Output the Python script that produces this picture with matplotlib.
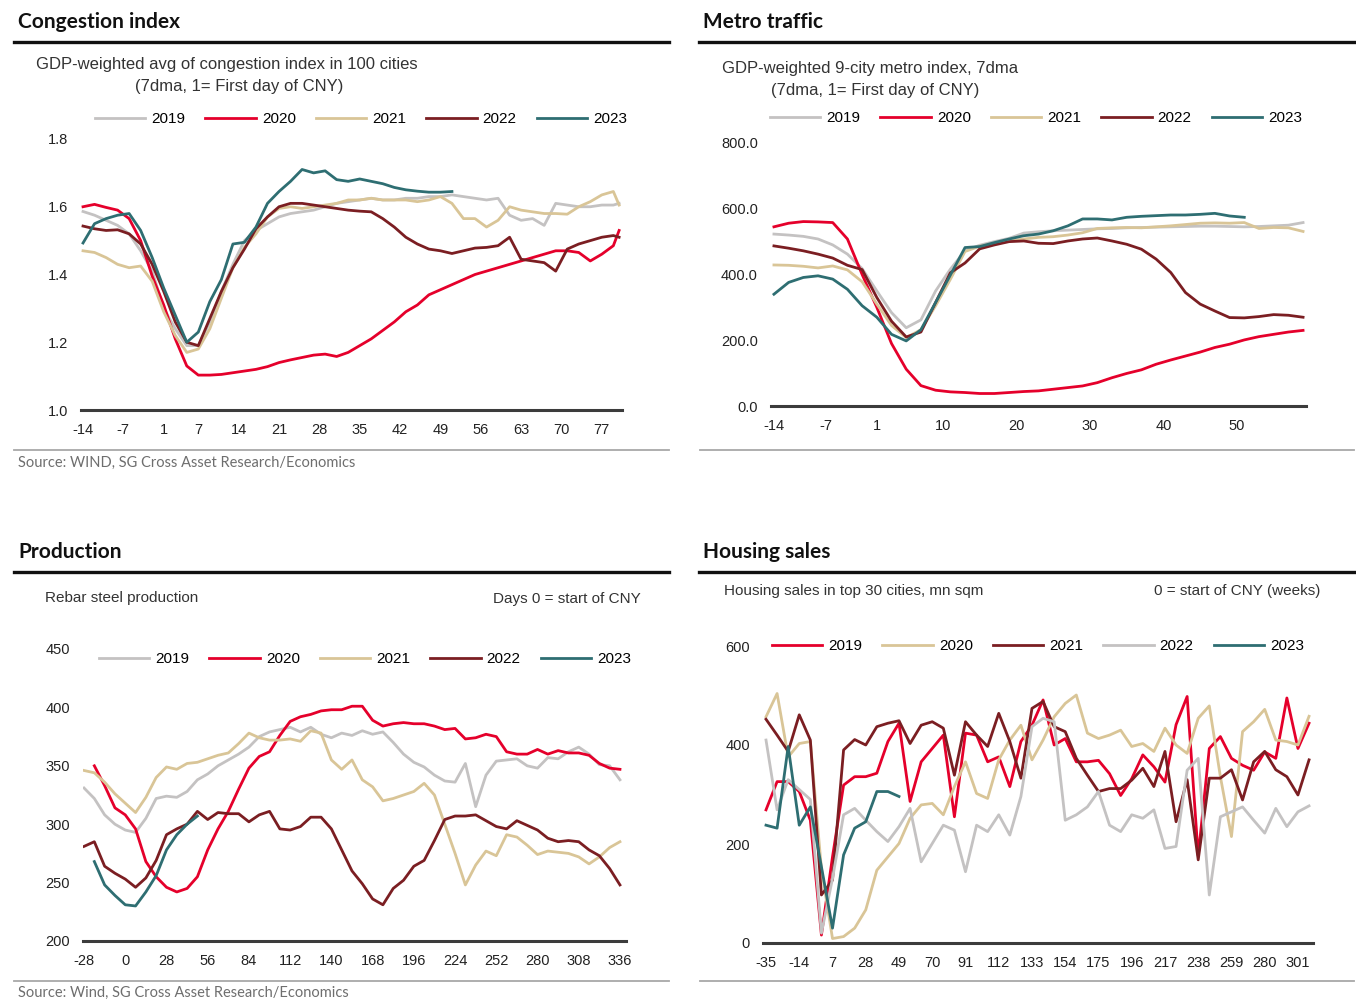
import numpy as np
import matplotlib
matplotlib.use("Agg")
import matplotlib.pyplot as plt
from matplotlib.lines import Line2D

nan = np.nan

# ---- congestion index (days around CNY, day 0 does not exist) ----
cong_days = [-14, -12, -10, -8, -6, -4, -2, 1, 3, 5, 7, 9, 11, 13, 15, 17, 19, 21, 23, 25,
             27, 29, 31, 33, 35, 37, 39, 41, 43, 45, 47, 49, 51, 53, 55, 57, 59, 61, 63, 65,
             67, 69, 71, 73, 75, 77, 79, 80]
cong_2019 = [1.586, 1.575, 1.56, 1.545, 1.52, 1.47, 1.41, 1.30, 1.24, 1.19, 1.19, 1.26, 1.35, 1.43,
             1.50, 1.53, 1.55, 1.57, 1.58, 1.585, 1.59, 1.60, 1.61, 1.615, 1.62, 1.625, 1.62, 1.62,
             1.625, 1.625, 1.63, 1.63, 1.635, 1.63, 1.625, 1.62, 1.625, 1.575, 1.56, 1.565, 1.545,
             1.61, 1.605, 1.60, 1.60, 1.605, 1.605, 1.61]
cong_2020 = [1.60, 1.607, 1.598, 1.59, 1.565, 1.50, 1.395, 1.31, 1.21, 1.13, 1.103, 1.103, 1.105,
             1.11, 1.115, 1.12, 1.128, 1.14, 1.148, 1.155, 1.162, 1.165, 1.158, 1.17, 1.19, 1.21,
             1.235, 1.26, 1.29, 1.31, 1.34, 1.355, 1.37, 1.385, 1.40, 1.41, 1.42, 1.43, 1.44, 1.45,
             1.46, 1.47, 1.47, 1.465, 1.44, 1.46, 1.485, 1.53]
cong_2021 = [1.47, 1.465, 1.45, 1.43, 1.42, 1.425, 1.38, 1.29, 1.22, 1.17, 1.18, 1.24, 1.33, 1.42,
             1.48, 1.52, 1.57, 1.595, 1.60, 1.595, 1.60, 1.605, 1.61, 1.62, 1.62, 1.625, 1.62, 1.62,
             1.62, 1.615, 1.62, 1.63, 1.61, 1.565, 1.565, 1.54, 1.56, 1.60, 1.59, 1.585, 1.58, 1.58,
             1.578, 1.60, 1.615, 1.635, 1.645, 1.605]
cong_2022 = [1.543, 1.535, 1.53, 1.532, 1.52, 1.49, 1.43, 1.35, 1.26, 1.20, 1.19, 1.27, 1.35, 1.42,
             1.475, 1.535, 1.57, 1.60, 1.61, 1.61, 1.605, 1.60, 1.595, 1.59, 1.587, 1.585, 1.565,
             1.54, 1.51, 1.49, 1.475, 1.47, 1.462, 1.47, 1.478, 1.48, 1.485, 1.51, 1.445, 1.44,
             1.435, 1.41, 1.475, 1.49, 1.50, 1.51, 1.515, 1.51]
cong_2023 = [1.493, 1.55, 1.565, 1.575, 1.58, 1.53, 1.45, 1.36, 1.28, 1.20, 1.23, 1.32, 1.385, 1.49,
             1.495, 1.54, 1.61, 1.645, 1.675, 1.71, 1.70, 1.706, 1.68, 1.675, 1.682, 1.675, 1.668,
             1.657, 1.65, 1.646, 1.643, 1.643, 1.645] + [nan] * 15
cong_ticks = [-14, -7, 1, 7, 14, 21, 28, 35, 42, 49, 56, 63, 70, 77]

# ---- metro traffic ----
metro_days = [-14, -12, -10, -8, -6, -4, -2, 1, 3, 5, 7, 9, 11, 13, 15, 17, 19, 21, 23, 25, 27,
              29, 31, 33, 35, 37, 39, 41, 43, 45, 47, 49, 51, 53, 55, 57, 59]
metro_2019 = [523, 520, 516, 508, 490, 462, 418, 350, 284, 238, 262, 350, 416, 472, 489, 500, 510,
              526, 530, 533, 535, 537, 539, 540, 542, 543, 544, 545, 546, 547, 547, 546, 545, 546,
              548, 550, 558]
metro_2020 = [545, 556, 561, 560, 558, 508, 400, 300, 190, 112, 62, 48, 43, 41, 38, 38, 41, 44, 46,
              51, 56, 61, 71, 86, 99, 110, 127, 140, 152, 164, 178, 188, 201, 211, 218, 225, 230]
metro_2021 = [429, 428, 425, 420, 426, 414, 378, 310, 245, 208, 232, 305, 385, 470, 486, 494, 502,
              508, 513, 515, 520, 527, 540, 542, 543, 542, 545, 548, 552, 556, 557, 556, 558, 540,
              543, 542, 531]
metro_2022 = [487, 480, 472, 462, 450, 428, 415, 330, 258, 210, 225, 315, 405, 435, 478, 490, 500,
              502, 495, 494, 502, 508, 511, 502, 492, 477, 447, 406, 345, 310, 289, 269, 268, 272,
              278, 276, 270]
metro_2023 = [340, 376, 391, 396, 386, 355, 305, 270, 218, 198, 232, 315, 398, 482, 485, 497, 508,
              518, 523, 533, 548, 569, 569, 566, 574, 577, 579, 581, 581, 583, 586, 578, 574,
              nan, nan, nan, nan]
metro_ticks = [-14, -7, 1, 10, 20, 30, 40, 50]

# ---- rebar steel production (weekly) ----
prod_days = list(range(-28, 337, 7))
prod_2019 = [331, 322, 308, 300, 295, 293, 305, 322, 324, 323, 328, 338, 343, 350, 355, 360, 366,
             375, 379, 381, 383, 379, 383, 377, 374, 378, 376, 380, 377, 379, 370, 360, 353, 349,
             342, 337, 336, 352, 315, 342, 354, 355, 356, 350, 348, 357, 356, 362, 366, 360, 351,
             350, 338]
prod_2020 = [nan, 350, 333, 314, 308, 296, 268, 255, 246, 242, 245, 255, 278, 296, 311, 330, 348,
             358, 362, 376, 388, 392, 394, 397, 398, 398, 401, 401, 389, 384, 386, 387, 386, 386,
             384, 381, 382, 373, 374, 377, 375, 362, 360, 360, 364, 360, 363, 361, 361, 359, 352,
             348, 347]
prod_2021 = [346, 344, 336, 326, 318, 310, 323, 340, 349, 347, 352, 353, 356, 359, 361, 369, 378,
             374, 372, 372, 373, 371, 380, 378, 355, 347, 355, 338, 332, 320, 322, 325, 328, 335,
             325, 300, 275, 248, 265, 277, 273, 291, 289, 282, 274, 277, 276, 275, 272, 266, 272,
             280, 285]
prod_2022 = [281, 285, 264, 258, 253, 246, 254, 269, 291, 296, 300, 311, 304, 310, 309, 309, 302,
             308, 311, 296, 295, 298, 306, 306, 296, 278, 260, 249, 236, 231, 245, 252, 264, 269,
             286, 304, 307, 307, 308, 303, 298, 296, 303, 299, 295, 288, 285, 286, 285, 278, 273,
             262, 248]
prod_2023 = [nan, 268, 248, 239, 231, 230, 242, 256, 278, 291, 300, 307] + [nan] * 41
prod_ticks = list(range(-28, 337, 28))

# ---- housing sales (weekly) ----
house_days = list(range(-35, 309, 7))
house_2019 = [269, 326, 326, 306, 248, 16, 174, 319, 336, 336, 343, 407, 444, 286, 366, 393, 420,
              255, 424, 420, 366, 376, 316, 407, 440, 491, 400, 413, 366, 366, 369, 342, 298, 332,
              380, 356, 325, 441, 498, 176, 393, 417, 373, 359, 349, 386, 373, 495, 393, 444]
house_2020 = [457, 504, 376, 403, 407, 150, 9, 13, 30, 67, 147, 174, 201, 252, 279, 282, 259, 316,
              366, 302, 292, 370, 410, 440, 370, 410, 457, 484, 501, 424, 413, 420, 430, 397, 403,
              387, 434, 400, 383, 454, 479, 336, 215, 427, 447, 472, 410, 407, 400, 458]
house_2021 = [452, 420, 387, 461, 410, 97, 127, 390, 411, 400, 437, 444, 449, 403, 440, 447, 434,
              339, 447, 420, 397, 464, 407, 333, 474, 488, 437, 427, 373, 339, 306, 312, 312, 329,
              353, 316, 387, 245, 330, 168, 333, 333, 350, 289, 366, 387, 350, 336, 299, 370]
house_2022 = [410, 269, 330, 310, 290, 20, 130, 259, 272, 248, 225, 205, 235, 272, 164, 201, 238,
              228, 144, 238, 225, 259, 218, 296, 437, 454, 447, 248, 259, 275, 306, 238, 225, 259,
              252, 269, 191, 195, 349, 373, 97, 255, 265, 275, 248, 222, 272, 235, 265, 277]
house_2023 = [238, 232, 397, 238, 275, 154, 30, 178, 232, 245, 306, 306, 296] + [nan] * 37
house_ticks = list(range(-35, 302, 21))

years = ["2019", "2020", "2021", "2022", "2023"]
GRAY, RED, TAN, DRED, TEAL = "#C4C2C2", "#E5002B", "#D9C597", "#7B1E22", "#2E6E72"

W, H = 1356, 1007
plt.rcParams["font.family"] = ["Liberation Sans", "DejaVu Sans"]
plt.rcParams["axes.unicode_minus"] = False
fig = plt.figure(figsize=(W / 100, H / 100), dpi=100)
fig.patch.set_facecolor("white")


def fx(x):
    return x / W


def fy(y):
    return 1 - y / H


def add_ax(l, t, r, b):
    ax = fig.add_axes([l / W, 1 - b / H, (r - l) / W, (b - t) / H])
    for s in ["top", "left", "right"]:
        ax.spines[s].set_visible(False)
    ax.spines["bottom"].set_color("#3c3c3c")
    ax.spines["bottom"].set_linewidth(2.2)
    ax.tick_params(length=0, labelsize=10.5, colors="#222222", pad=9.5)
    ax.patch.set_alpha(0)
    return ax


def cny_pos(days):
    # categorical axis: day 0 is skipped
    return np.array([d + 14 if d < 0 else d + 13 for d in days])


def rule(x0, x1, y, color, lw):
    fig.add_artist(Line2D([fx(x0), fx(x1)], [fy(y), fy(y)], color=color, lw=lw))


def header(x, title, ytitle, yrule, x1):
    fig.text(fx(x), fy(ytitle), title, fontfamily=["Lato", "DejaVu Sans"],
             fontweight="bold", fontsize=15, va="center", color="#111111")
    rule(x - 4, x1, yrule, "#111111", 2.4)


def legend(ax, lines, cx, cy):
    ax.legend(lines, years, loc="center", bbox_to_anchor=(fx(cx), fy(cy)),
              bbox_transform=fig.transFigure, ncol=5, frameon=False, fontsize=11,
              handlelength=3.3, handletextpad=0.4, columnspacing=1.3, borderaxespad=0)


LW = 2.0

# ---------- panel 1: congestion ----------
header(18, "Congestion index", 22, 42, 669)
fig.text(fx(36), fy(64), "GDP-weighted avg of congestion index in 100 cities",
         fontsize=12, color="#333333", va="center")
fig.text(fx(135), fy(86), "(7dma, 1= First day of CNY)", fontsize=12, color="#333333", va="center")
ax1 = add_ax(81, 139, 622, 410)
xc = cny_pos(cong_days)
l1 = []
for ys, c in zip([cong_2019, cong_2020, cong_2021, cong_2022, cong_2023], [GRAY, RED, TAN, DRED, TEAL]):
    l1 += ax1.plot(xc, ys, color=c, lw=LW)
ax1.set_ylim(1.0, 1.8)
ax1.set_yticks([1.0, 1.2, 1.4, 1.6, 1.8])
ax1.set_yticklabels(["%.1f" % v for v in [1.0, 1.2, 1.4, 1.6, 1.8]])
ax1.set_xlim(-0.35, 93.5)
ax1.set_xticks(cny_pos(cong_ticks))
ax1.set_xticklabels([str(t) for t in cong_ticks])
legend(ax1, l1, 361, 119)
rule(14, 669, 450, "#a8a8a8", 1.3)
fig.text(fx(18), fy(463), "Source: WIND, SG Cross Asset Research/Economics",
         fontfamily=["Lato", "DejaVu Sans"], fontsize=10.5, color="#6e6e6e", va="center")

# ---------- panel 2: metro ----------
header(703, "Metro traffic", 22, 42, 1354)
fig.text(fx(722), fy(69), "GDP-weighted 9-city metro index, 7dma", fontsize=12, color="#333333", va="center")
fig.text(fx(771), fy(91), "(7dma, 1= First day of CNY)", fontsize=12, color="#333333", va="center")
ax2 = add_ax(771, 143, 1306, 406)
xm = cny_pos(metro_days)
l2 = []
for ys, c in zip([metro_2019, metro_2020, metro_2021, metro_2022, metro_2023], [GRAY, RED, TAN, DRED, TEAL]):
    l2 += ax2.plot(xm, ys, color=c, lw=LW)
ax2.set_ylim(0, 800)
ax2.set_yticks([0, 200, 400, 600, 800])
ax2.set_yticklabels(["%.1f" % v for v in [0, 200, 400, 600, 800]])
ax2.set_xlim(-0.4, 72.4)
ax2.set_xticks(cny_pos(metro_ticks))
ax2.set_xticklabels([str(t) for t in metro_ticks])
legend(ax2, l2, 1036, 118)
rule(700, 1354, 450, "#a8a8a8", 1.3)

# ---------- panel 3: production ----------
header(18, "Production", 552, 572, 669)
fig.text(fx(45), fy(598), "Rebar steel production", fontsize=11, color="#333333", va="center")
fig.text(fx(641), fy(599), "Days 0 = start of CNY", fontsize=11, color="#333333", va="center", ha="right")
ax3 = add_ax(83, 649, 626, 941)
l3 = []
for ys, c in zip([prod_2019, prod_2020, prod_2021, prod_2022, prod_2023], [GRAY, RED, TAN, DRED, TEAL]):
    l3 += ax3.plot(prod_days, ys, color=c, lw=LW)
ax3.set_ylim(200, 450)
ax3.set_yticks([200, 250, 300, 350, 400, 450])
ax3.set_xlim(-28.7, 340.1)
ax3.set_xticks(prod_ticks)
legend(ax3, l3, 365, 659)
rule(14, 669, 981, "#a8a8a8", 1.3)
fig.text(fx(18), fy(993), "Source: Wind, SG Cross Asset Research/Economics",
         fontfamily=["Lato", "DejaVu Sans"], fontsize=10.5, color="#6e6e6e", va="center")

# ---------- panel 4: housing ----------
header(703, "Housing sales", 552, 572, 1354)
fig.text(fx(724), fy(591), "Housing sales in top 30 cities, mn sqm", fontsize=11, color="#333333", va="center")
fig.text(fx(1320), fy(591), "0 = start of CNY (weeks)", fontsize=11, color="#333333", va="center", ha="right")
ax4 = add_ax(763, 646, 1313, 943)
l4 = []
for ys, c in zip([house_2019, house_2020, house_2021, house_2022, house_2023], [RED, TAN, DRED, GRAY, TEAL]):
    l4 += ax4.plot(house_days, ys, color=c, lw=LW)
ax4.set_ylim(0, 600)
ax4.set_yticks([0, 200, 400, 600])
ax4.set_xlim(-36.9, 310.5)
ax4.set_xticks(house_ticks)
legend(ax4, l4, 1038, 646)
rule(700, 1354, 981, "#a8a8a8", 1.3)

fig.savefig("out.png", dpi=100, facecolor="white")
